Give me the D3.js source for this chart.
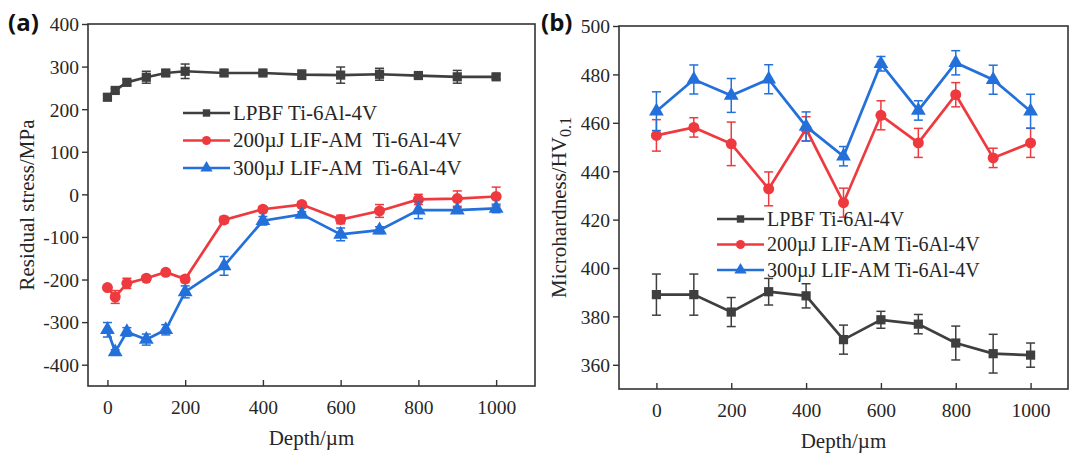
<!DOCTYPE html>
<html><head><meta charset="utf-8">
<script src="https://cdn.jsdelivr.net/npm/d3@7"></script>
<style>
body{margin:0;background:#fff}
svg text{font-family:"Liberation Serif","Times New Roman",serif !important;fill:#262626}
svg text.plabel{font-family:"Open Sans","Liberation Sans",Arial,sans-serif !important;fill:#111}
</style></head>
<body><svg id="chart" width="1080" height="461"></svg>
<script>
// ---------- Panel (a): residual stress ----------
const depthA = [0,20,50,100,150,200,300,400,500,600,700,800,900,1000];
const stressLPBF    = [228,244,263,275,285,289,285,285,281,280,282,279,276,276];
const stressLPBFErr = [5,5,6,14,6,17,6,5,11,19,14,5,15,6];
const stress200     = [-219,-241,-209,-197,-183,-199,-60,-35,-24,-59,-39,-12,-10,-5];
const stress200Err  = [5,15,12,5,6,8,8,6,7,10,15,12,18,22];
const stress300     = [-318,-370,-323,-341,-318,-229,-168,-62,-47,-94,-84,-37,-37,-33];
const stress300Err  = [17,5,10,13,12,14,22,10,6,15,8,20,6,10];
const ticksAx = [0,200,400,600,800,1000];
const ticksAy = [-400,-300,-200,-100,0,100,200,300,400];
const legendA = ["LPBF Ti-6Al-4V","200µJ LIF-AM  Ti-6Al-4V","300µJ LIF-AM  Ti-6Al-4V"];

// ---------- Panel (b): microhardness ----------
const depthB = [0,100,200,300,400,500,600,700,800,900,1000];
const hvLPBF    = [389,389,381.8,390.2,388.5,370.4,378.6,376.8,369,364.6,364];
const hvLPBFErr = [8.5,8.5,6,5.5,5,6,3.5,4,7,8,5];
const hv200     = [454.8,458.1,451.3,432.7,457.5,427,463.1,451.7,471.6,445.5,451.7];
const hv200Err  = [6.5,4,9,7,5,6,6,6,5,4,6];
const hv300     = [464.8,477.9,471.3,478,458.5,446.2,484.4,465.1,484.8,477.8,464.8];
const hv300Err  = [8,6,7,6,6,4,3,4,5,6,7];
const ticksBx = [0,200,400,600,800,1000];
const ticksBy = [360,380,400,420,440,460,480,500];
const legendB = ["LPBF Ti-6Al-4V","200µJ LIF-AM Ti-6Al-4V","300µJ LIF-AM Ti-6Al-4V"];

const colors = ["#3f3f3f","#ee3a3e","#2370db"];
const markers = [d3.symbolSquare, d3.symbolCircle, d3.symbolTriangle];
const markerSizes = [85, 95, 95];
const legendMarkerSizes = [55, 65, 65];

const svg = d3.select("#chart");

function drawPanel(cfg){
  const g = svg.append("g");
  const x = d3.scaleLinear().domain(cfg.xDomain).range([cfg.left, cfg.right]);
  const y = d3.scaleLinear().domain(cfg.yDomain).range([cfg.bottom, cfg.top]);

  g.append("rect").attr("x",cfg.left).attr("y",cfg.top)
    .attr("width",cfg.right-cfg.left).attr("height",cfg.bottom-cfg.top)
    .attr("fill","none").attr("stroke","#333").attr("stroke-width",1.6);

  const xa = g.append("g").attr("transform",`translate(0,${cfg.bottom})`)
    .call(d3.axisBottom(x).tickValues(cfg.xTicks).tickSizeInner(-6).tickSizeOuter(0).tickPadding(14).tickFormat(d=>String(d)));
  xa.select(".domain").remove();
  xa.selectAll("line").attr("stroke","#333").attr("stroke-width",1.4);
  xa.selectAll("text").style("font-size","19.5px").style("fill","#262626");

  const ya = g.append("g").attr("transform",`translate(${cfg.left},0)`)
    .call(d3.axisLeft(y).tickValues(cfg.yTicks).tickSize(6).tickPadding(3).tickFormat(d=>String(d)));
  ya.select(".domain").remove();
  ya.selectAll("line").attr("stroke","#333").attr("stroke-width",1.4);
  ya.selectAll("text").style("font-size","19.5px").style("fill","#262626").attr("dy","0.35em");

  cfg.series.forEach((s,i)=>{
    const pts = s.x.map((d,j)=>({x:d,y:s.y[j],e:s.err[j]}));
    const sg = g.append("g");
    pts.forEach(p=>{
      const cx = x(p.x), y1 = y(p.y+p.e), y2 = y(p.y-p.e);
      sg.append("line").attr("x1",cx).attr("x2",cx).attr("y1",y1).attr("y2",y2)
        .attr("stroke",colors[i]).attr("stroke-width",1.5);
      [y1,y2].forEach(yy=>sg.append("line").attr("x1",cx-4.5).attr("x2",cx+4.5)
        .attr("y1",yy).attr("y2",yy).attr("stroke",colors[i]).attr("stroke-width",1.5));
    });
    sg.append("path").datum(pts)
      .attr("d",d3.line().x(p=>x(p.x)).y(p=>y(p.y)))
      .attr("fill","none").attr("stroke",colors[i]).attr("stroke-width",2.7);
    sg.selectAll("path.m").data(pts).join("path").attr("class","m")
      .attr("transform",p=>`translate(${x(p.x)},${y(p.y)})`)
      .attr("d",d3.symbol().type(markers[i]).size(markerSizes[i]))
      .attr("fill",colors[i]);
  });

  cfg.legend.forEach((t,i)=>{
    const ly = cfg.legY + i*cfg.legStep;
    g.append("line").attr("x1",cfg.legX).attr("x2",cfg.legX+47).attr("y1",ly).attr("y2",ly)
      .attr("stroke",colors[i]).attr("stroke-width",2.6);
    g.append("path").attr("transform",`translate(${cfg.legX+23.5},${ly})`)
      .attr("d",d3.symbol().type(markers[i]).size(legendMarkerSizes[i])).attr("fill",colors[i]);
    g.append("text").attr("x",cfg.legX+50).attr("y",ly).attr("dy","0.33em")
      .style("font-size",cfg.legFont+"px").style("white-space","pre").text(t);
  });

  g.append("text").attr("x",(cfg.left+cfg.right)/2).attr("y",cfg.xTitleY)
    .attr("text-anchor","middle").style("font-size","21px").text("Depth/µm");
  const yt = g.append("text")
    .attr("transform",`translate(${cfg.yTitleX},${(cfg.top+cfg.bottom)/2}) rotate(-90)`)
    .attr("text-anchor","middle").style("font-size","21px");
  cfg.yTitle(yt);

  svg.append("text").attr("class","plabel").attr("x",cfg.labelX).attr("y",31)
    .style("font-weight","bold").style("font-size","24px").text(cfg.label);
}

drawPanel({
  left:88,right:535,top:24,bottom:386,
  xDomain:[-50,1100],yDomain:[-450,400],
  xTicks:ticksAx,yTicks:ticksAy,
  series:[
    {x:depthA,y:stressLPBF,err:stressLPBFErr},
    {x:depthA,y:stress200,err:stress200Err},
    {x:depthA,y:stress300,err:stress300Err}],
  legend:legendA,legX:183,legY:113,legStep:27.5,legFont:21,
  xTitleY:445,yTitleX:34,
  yTitle:t=>t.text("Residual stress/MPa"),
  label:"(a)",labelX:8
});

drawPanel({
  left:619,right:1068,top:26,bottom:389,
  xDomain:[-100,1100],yDomain:[350,500],
  xTicks:ticksBx,yTicks:ticksBy,
  series:[
    {x:depthB,y:hvLPBF,err:hvLPBFErr},
    {x:depthB,y:hv200,err:hv200Err},
    {x:depthB,y:hv300,err:hv300Err}],
  legend:legendB,legX:717,legY:219,legStep:25.5,legFont:20,
  xTitleY:448,yTitleX:566,
  yTitle:t=>{t.append("tspan").text("Microhardness/HV");
             t.append("tspan").style("font-size","16px").attr("dy",5).text("0.1");},
  label:"(b)",labelX:541
});
</script>
</body></html>
